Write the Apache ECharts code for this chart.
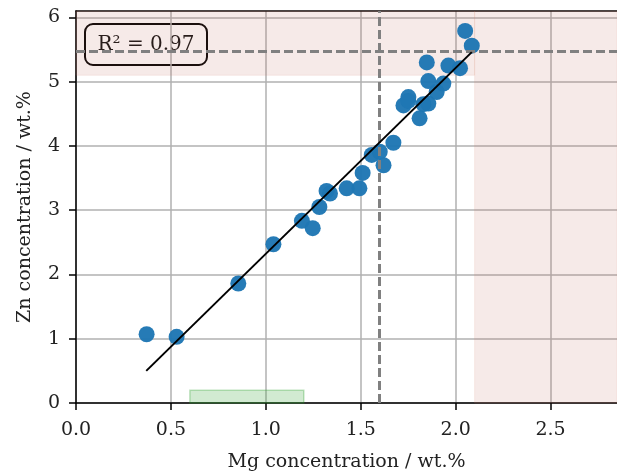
<!DOCTYPE html>
<html><head><meta charset="utf-8">
<script src="https://cdn.jsdelivr.net/npm/echarts@6/dist/echarts.min.js"></script>
<style>html,body{margin:0;padding:0;background:#fff}#c{width:617px;height:472px}</style>
</head><body><div id="c"></div>
<script>
const mg = [0.372,0.53,0.855,1.04,1.19,1.247,1.282,1.32,1.338,1.426,1.493,1.51,1.558,1.60,1.62,1.672,1.725,1.751,1.75,1.81,1.83,1.848,1.856,1.856,1.90,1.935,1.962,2.023,2.05,2.085];
const zn = [1.07,1.03,1.86,2.47,2.835,2.72,3.05,3.30,3.26,3.34,3.34,3.58,3.86,3.91,3.70,4.05,4.63,4.76,4.70,4.43,4.65,5.30,5.01,4.66,4.84,4.97,5.25,5.21,5.79,5.56];
const fitX = [0.37, 2.085];
const fitY = [0.50, 5.46];
const xTicks = [0, 0.5, 1.0, 1.5, 2.0, 2.5];
const yTicks = [0, 1, 2, 3, 4, 5, 6];
const xRange = [0, 2.85];
const yRange = [0, 6.1];
const vLine = 1.6, hLine = 5.47;
const mgLimit = 2.1, znLimit = 5.1;
const greenBox = [0.6, 1.2, 0, 0.2];
const r2Text = 'R² = 0.97';

const font = 'DejaVu Serif';
const chart = echarts.init(document.getElementById('c'));
const axisCommon = {
  axisLine:{show:true,onZero:false,lineStyle:{color:'#000',width:1.5}},
  axisTick:{show:true,length:7,lineStyle:{color:'#000',width:1.5}},
  splitLine:{show:true,lineStyle:{color:'#b0b0b0',width:1.5}},
  nameTextStyle:{fontFamily:font,fontSize:19,color:'#222'}
};
chart.setOption({
  animation:false,
  grid:{left:76,top:11,right:0,bottom:69,containLabel:false,outerBoundsMode:'none'},
  xAxis:[{
    type:'value', min:xRange[0], max:xRange[1], interval:0.5,
    ...axisCommon,
    axisTick:{...axisCommon.axisTick, customValues:xTicks},
    axisLabel:{customValues:xTicks, fontFamily:font,fontSize:19,color:'#222',margin:18,formatter:v=>v.toFixed(1)},
    name:'Mg concentration / wt.%', nameLocation:'middle', nameGap:50
  },{
    type:'value', position:'top', min:xRange[0], max:xRange[1],
    axisLine:{show:true,onZero:false,lineStyle:{color:'#000',width:1.5}},
    axisTick:{show:false}, axisLabel:{show:false}, splitLine:{show:false}
  }],
  yAxis:{
    type:'value', min:yRange[0], max:yRange[1], interval:1,
    ...axisCommon,
    axisTick:{...axisCommon.axisTick, customValues:yTicks},
    axisLabel:{customValues:yTicks, fontFamily:font,fontSize:19,color:'#222',margin:16},
    name:'Zn concentration / wt.%', nameLocation:'middle', nameGap:41
  },
  series:[{
    type:'scatter', data:mg.map((x,i)=>[x,zn[i]]), symbolSize:16, z:3,
    itemStyle:{color:'#1f77b4',opacity:0.97},
    markArea:{silent:true, z:1, data:[
      [{coord:[mgLimit,yRange[0]],itemStyle:{color:'rgba(188,108,95,0.14)',borderColor:'rgba(210,120,100,0.12)',borderWidth:1}},{coord:[xRange[1],yRange[1]]}],
      [{coord:[xRange[0],znLimit],itemStyle:{color:'rgba(188,108,95,0.14)',borderColor:'rgba(210,120,100,0.12)',borderWidth:1}},{coord:[mgLimit,yRange[1]]}],
      [{coord:[greenBox[0],greenBox[2]],itemStyle:{color:'rgba(44,160,44,0.22)',borderColor:'rgba(44,160,44,0.3)',borderWidth:1.5}},{coord:[greenBox[1],greenBox[3]]}]
    ]}
  },{
    type:'line', data:[], z:4,
    markLine:{silent:true, symbol:'none', label:{show:false},
      lineStyle:{color:'#808080',width:3,type:[9,4]},
      data:[{xAxis:vLine},{yAxis:hLine}]}
  },{
    type:'line', data:fitX.map((x,i)=>[x,fitY[i]]), symbol:'none', z:5,
    lineStyle:{color:'#000',width:2}
  }],
  graphic:[{
    type:'group', left:84, top:23, z:100, children:[
      {type:'rect', shape:{x:0,y:0,width:122,height:41,r:8}, style:{fill:'#fff',stroke:'#000',lineWidth:2}},
      {type:'text', x:61, y:21, style:{text:r2Text, font:'20px "DejaVu Serif"', fill:'#111', align:'center', verticalAlign:'middle'}}
    ]
  }]
});
</script></body></html>
